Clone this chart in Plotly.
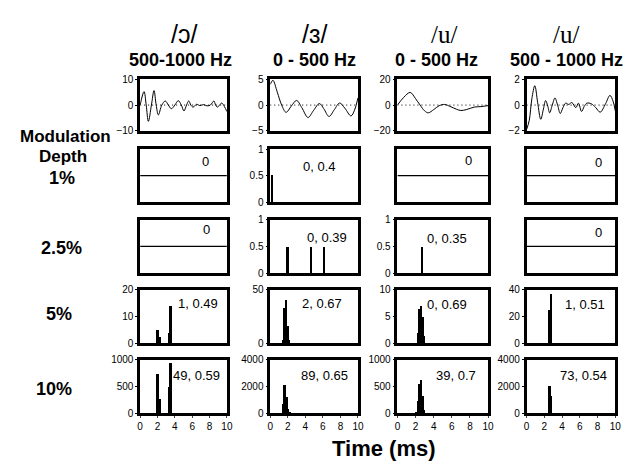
import plotly.graph_objects as go

# Column / row headings
vowels = ["/ɔ/", "/ɜ/", "/u/", "/u/"]
bands = ["500-1000 Hz", "0 - 500 Hz", "0 - 500 Hz", "500 - 1000 Hz"]
depths = ["1%", "2.5%", "5%", "10%"]
time_ticks = [0, 2, 4, 6, 8, 10]

# Waveforms (time in ms, amplitude)
wave_oo_t = [0, 0.45, 0.7, 0.95, 1.3, 1.6, 1.85, 2.1, 2.5, 2.9, 3.25, 3.6, 4.0, 4.4, 4.75, 5.05,
             5.35, 5.6, 5.85, 6.1, 6.5, 6.9, 7.3, 7.7, 8.1, 8.5, 8.7, 8.9, 9.15, 9.4, 9.7, 10]
wave_oo_y = [0, 5.2, 0, -6.3, 0, 5.6, 0, -3.8, 0, 1.6, 0, -1.4, 0, 1.7, 0, -2.3,
             0, 1.6, 0, -0.8, 0.3, -0.2, 0.2, -0.3, 0, 1.6, 0, -0.8, 0, 0.8, -0.5, -2.5]
wave_er_t = [0, 0.3, 0.8, 1.3, 1.8, 2.4, 3.0, 3.6, 4.3, 4.95, 5.6, 6.1, 6.7, 7.3, 7.9, 8.5, 9.2, 9.6, 10]
wave_er_y = [4.0, 4.8, 2.5, 0, -1.4, -0.2, 0.9, -0.5, -2.4, -1.0, 0.3, -0.7, -2.2, -0.9, 0.4, -0.6, -2.1, -1.0, 1.4]
wave_u_lo_t = [0, 0.7, 1.4, 2.0, 2.5, 3.0, 3.4, 4.0, 4.6, 5.2, 5.8, 6.5, 7.0, 7.6, 8.5, 9.2, 10]
wave_u_lo_y = [0, 6, 9.8, 5, 0, -4.5, -6, -3.5, -0.5, 0.5, -1.0, -3.2, -4.2, -3.5, -1.5, -1.2, -0.4]
wave_u_hi_t = [0, 0.3, 0.6, 0.93, 1.25, 1.6, 1.9, 2.15, 2.4, 2.6, 2.9, 3.2, 3.5, 3.8, 4.1, 4.4, 4.75,
               5.1, 5.55, 5.85, 6.2, 6.5, 6.8, 7.3, 7.8, 8.3, 8.9, 9.4, 9.75, 10]
wave_u_hi_y = [-1.9, -1.2, 0.5, 1.5, 0.2, -1.1, -0.3, 0.35, -0.1, -0.6, 0, 0.55, 0, -0.65, -0.2, 0.15, 0.05,
               0.2, -0.2, 0.15, -0.5, -0.1, 0.15, 0.1, -0.2, -0.55, 0.1, 0.75, 0.3, -0.45]
wave_limits = [10, 5, 20, 2]

# Histograms of spike times (ms) per depth row, per column; None = no response
h1_er_t, h1_er_n = [0.25], [0.5]
h25_er_t, h25_er_n = [2.0, 4.7, 6.2], [0.5, 0.5, 0.5]
h25_ulo_t, h25_ulo_n = [2.75], [0.5]
h5_oo_t, h5_oo_n = [2.05, 2.3, 3.35, 3.55], [5, 2.5, 4, 14]
h5_er_t, h5_er_n = [1.5, 1.68, 1.86, 2.04, 2.22, 5.9], [3, 33, 41, 16, 3, 0.5]
h5_ulo_t, h5_ulo_n = [2.3, 2.47, 2.65, 2.84, 3.0], [2, 6.5, 7, 5, 1.5]
h5_uhi_t, h5_uhi_n = [1.2, 2.55, 2.75], [0.4, 25, 37]
h10_oo_t, h10_oo_n = [2.05, 2.3, 3.35, 3.55], [740, 270, 500, 950]
h10_er_t, h10_er_n = [1.5, 1.7, 1.89, 2.08, 2.26, 4.3, 5.5], [730, 2130, 1210, 315, 70, 20, 15]
h10_ulo_t, h10_ulo_n = [2.1, 2.3, 2.5, 2.67, 2.84, 3.0], [30, 240, 560, 620, 330, 70]
h10_uhi_t, h10_uhi_n = [2.55, 2.75], [2060, 1330]

hists = [
    [None, (h1_er_t, h1_er_n), None, None],
    [None, (h25_er_t, h25_er_n), (h25_ulo_t, h25_ulo_n), None],
    [(h5_oo_t, h5_oo_n), (h5_er_t, h5_er_n), (h5_ulo_t, h5_ulo_n), (h5_uhi_t, h5_uhi_n)],
    [(h10_oo_t, h10_oo_n), (h10_er_t, h10_er_n), (h10_ulo_t, h10_ulo_n), (h10_uhi_t, h10_uhi_n)],
]
hist_max = [
    [None, 1, None, None],
    [None, 1, 1, None],
    [20, 50, 10, 40],
    [1000, 4000, 1000, 4000],
]
hist_ticks = [
    [None, [0, 0.5, 1], None, None],
    [None, [0, 0.5, 1], [0, 0.5, 1], None],
    [[0, 10, 20], [0, 50], [0, 5, 10], [0, 20, 40]],
    [[0, 500, 1000], [0, 2000, 4000], [0, 500, 1000], [0, 2000, 4000]],
]
panel_labels = [
    ["0", "0, 0.4", "0", "0"],
    ["0", "0, 0.39", "0, 0.35", "0"],
    ["1, 0.49", "2, 0.67", "0, 0.69", "1, 0.51"],
    ["49, 0.59", "89, 0.65", "39, 0.7", "73, 0.54"],
]

W, H = 633, 464
FONT = "Arial, Liberation Sans, sans-serif"
col_px = [(131, 219), (263, 352), (392, 484), (523, 613)]
row_px = [(67, 120), (139, 193), (211, 266), (283, 338), (355, 410)]
label_px = [
    [(197, 151), (313, 157), (464, 150), (596, 152)],
    [(198, 221), (321, 229), (442, 230), (596, 224)],
    [(190, 297), (315, 297), (442, 298), (582, 298)],
    [(188, 371), (318, 371), (451, 371), (581, 371)],
]


def px(x):
    return x / W


def py(y):
    return 1 - y / H


fig = go.Figure()
layout = {}
shapes = []
annotations = []

waves = [(wave_oo_t, wave_oo_y), (wave_er_t, wave_er_y), (wave_u_lo_t, wave_u_lo_y), (wave_u_hi_t, wave_u_hi_y)]

for r in range(5):
    for c in range(4):
        k = r * 4 + c + 1
        xa, ya = "x%d" % k, "y%d" % k
        xdom = [px(col_px[c][0]), px(col_px[c][1])]
        ydom = [py(row_px[r][1]), py(row_px[r][0])]
        xaxis = dict(domain=xdom, anchor=ya, range=[0, 10], showline=True, mirror=True,
                     linecolor="black", linewidth=2.5, showgrid=False, zeroline=False,
                     ticks="", showticklabels=False, fixedrange=True)
        yaxis = dict(domain=ydom, anchor=xa, showline=True, mirror=True, linecolor="black",
                     linewidth=2.5, showgrid=False, zeroline=False, ticks="outside",
                     ticklen=2, tickwidth=1, tickcolor="black",
                     tickfont=dict(family=FONT, size=10, color="black"), fixedrange=True)
        if r == 4:
            xaxis.update(showticklabels=True, tickvals=time_ticks, ticks="outside", ticklen=2,
                         tickfont=dict(family=FONT, size=10, color="black"))
        if r == 0:
            lim = wave_limits[c]
            yaxis.update(range=[-lim, lim], tickvals=[-lim, 0, lim])
            wt, wy = waves[c]
            shapes.append(dict(type="line", xref=xa, yref=ya, x0=0, x1=10, y0=0, y1=0,
                               line=dict(color="black", width=1, dash="1px,3px"), layer="below"))
            fig.add_trace(go.Scatter(x=wt, y=wy, xaxis=xa, yaxis=ya, mode="lines",
                                     line=dict(color="black", width=1, shape="spline", smoothing=1.0),
                                     hoverinfo="skip"))
        else:
            h = hists[r - 1][c]
            if h is None:
                yaxis.update(range=[-1, 1], showticklabels=False, ticks="")
                fig.add_trace(go.Scatter(x=[0, 10], y=[0, 0], xaxis=xa, yaxis=ya, mode="lines",
                                         line=dict(color="black", width=1.2), hoverinfo="skip"))
            else:
                yaxis.update(range=[0, hist_max[r - 1][c]], tickvals=hist_ticks[r - 1][c])
                fig.add_trace(go.Bar(x=h[0], y=h[1], xaxis=xa, yaxis=ya, width=0.22,
                                     marker=dict(color="black", line=dict(width=0)),
                                     hoverinfo="skip"))
            lx, ly = label_px[r - 1][c]
            annotations.append(dict(text=panel_labels[r - 1][c], x=px(lx), y=py(ly), xref="paper",
                                    yref="paper", showarrow=False, xanchor="center", yanchor="middle",
                                    font=dict(family=FONT, size=13, color="black")))
        layout["xaxis%d" % k] = xaxis
        layout["yaxis%d" % k] = yaxis

# column headings
vowel_px = [(175, 21), (308, 21), (439, 21), (563, 21)]
band_px = [(172, 47), (308, 47), (432, 47), (564, 47)]
for c in range(4):
    vfont = "Liberation Serif, Times New Roman, serif" if vowels[c] == "/u/" else FONT
    annotations.append(dict(text=vowels[c], x=px(vowel_px[c][0]), y=py(vowel_px[c][1]), xref="paper",
                            yref="paper", showarrow=False, xanchor="center", yanchor="middle",
                            font=dict(family=vfont, size=25, color="black")))
    annotations.append(dict(text="<b>%s</b>" % bands[c], x=px(band_px[c][0]), y=py(band_px[c][1]),
                            xref="paper", yref="paper", showarrow=False, xanchor="center",
                            yanchor="middle", font=dict(family=FONT, size=18, color="black")))

# row headings
annotations.append(dict(text="<b>Modulation</b>", x=px(55), y=py(126), xref="paper", yref="paper",
                        showarrow=False, xanchor="center", yanchor="middle",
                        font=dict(family=FONT, size=17, color="black")))
annotations.append(dict(text="<b>Depth</b>", x=px(53), y=py(146), xref="paper", yref="paper",
                        showarrow=False, xanchor="center", yanchor="middle",
                        font=dict(family=FONT, size=17, color="black")))
depth_px = [(52, 168), (51, 240), (49, 308), (44, 385)]
for i, d in enumerate(depths):
    annotations.append(dict(text="<b>%s</b>" % d, x=px(depth_px[i][0]), y=py(depth_px[i][1]),
                            xref="paper", yref="paper", showarrow=False, xanchor="center",
                            yanchor="middle", font=dict(family=FONT, size=18, color="black")))

annotations.append(dict(text="<b>Time (ms)</b>", x=px(378), y=py(446), xref="paper", yref="paper",
                        showarrow=False, xanchor="center", yanchor="middle",
                        font=dict(family=FONT, size=22, color="black")))

fig.update_layout(**layout)
fig.update_layout(width=W, height=H, margin=dict(l=0, r=0, t=0, b=0), showlegend=False,
                  plot_bgcolor="white", paper_bgcolor="white", shapes=shapes,
                  annotations=annotations, bargap=0)

fig.write_html("out.html")
